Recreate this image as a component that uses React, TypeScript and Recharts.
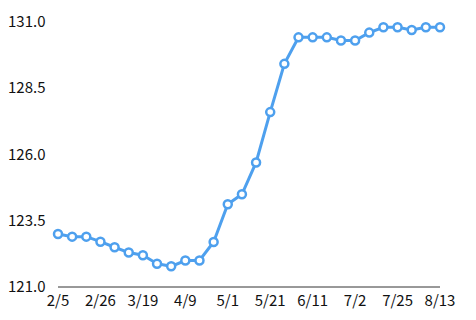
import React from 'react';
import { LineChart, Line, XAxis, YAxis } from 'recharts';

const dates = ['2/5','2/12','2/19','2/26','3/5','3/12','3/19','3/26','4/2','4/9','4/16','4/23','5/1','5/7','5/14','5/21','5/28','6/4','6/11','6/18','6/25','7/2','7/9','7/16','7/25','7/30','8/6','8/13'];
const values = [123.0,122.9,122.9,122.71,122.5,122.3,122.2,121.88,121.78,122.0,122.0,122.7,124.12,124.5,125.7,127.6,129.42,130.42,130.42,130.42,130.3,130.3,130.6,130.8,130.8,130.7,130.8,130.8];
const yTicks = [121.0, 123.5, 126.0, 128.5, 131.0];

const data = dates.map((d, i) => ({ date: d, value: values[i] }));
const font = '"Noto Sans CJK JP", "Noto Sans", sans-serif';

const YTick = (props: any) => {
  const { y, payload } = props;
  return (
    <text x={0} y={y} dy={5} textAnchor="start" fill="#111" fontSize={15} fontFamily={font}>
      {Number(payload.value).toFixed(1)}
    </text>
  );
};

export default function App() {
  return (
    <div style={{ width: 468, height: 312 }}>
      <LineChart width={468} height={312} data={data} margin={{ top: 14, right: 36, bottom: 3, left: 0 }}>
        <XAxis
          dataKey="date"
          interval={2}
          tickLine={false}
          axisLine={{ stroke: '#333', strokeWidth: 1 }}
          tick={{ fill: '#111', fontSize: 15, fontFamily: font }}
          height={30}
        />
        <YAxis
          domain={[121, 131]}
          ticks={yTicks}
          axisLine={false}
          tickLine={false}
          width={50}
          tick={<YTick />}
        />
        <Line
          type="linear"
          dataKey="value"
          stroke="#4EA0EE"
          strokeWidth={3}
          dot={{ r: 4, fill: '#fff', stroke: '#4EA0EE', strokeWidth: 2.5 }}
          isAnimationActive={false}
        />
      </LineChart>
    </div>
  );
}
